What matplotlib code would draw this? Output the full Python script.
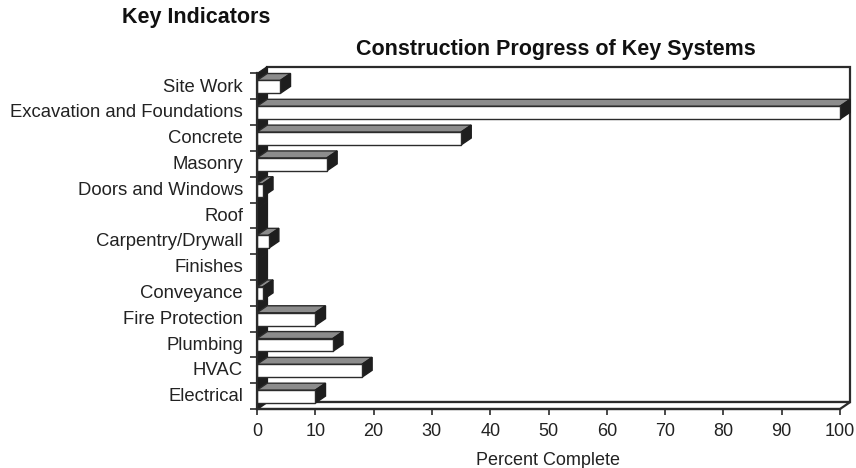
import matplotlib
matplotlib.use("Agg")
import matplotlib.pyplot as plt
from matplotlib.patches import Polygon, Rectangle

plt.rcParams['font.family'] = ['Liberation Sans', 'DejaVu Sans']

categories = [
    "Site Work", "Excavation and Foundations", "Concrete", "Masonry",
    "Doors and Windows", "Roof", "Carpentry/Drywall", "Finishes",
    "Conveyance", "Fire Protection", "Plumbing", "HVAC", "Electrical",
]
percent_complete = [4, 100, 35, 12, 1, 0, 2, 0, 1, 10, 13, 18, 10]
x_ticks = list(range(0, 101, 10))

W, H = 856, 468
fig = plt.figure(figsize=(W / 100, H / 100), dpi=100)
ax = fig.add_axes([257 / W, (H - 409) / H, 583 / W, 335.5 / H])

n = len(categories)
ax.set_xlim(0, 100)
ax.set_ylim(n - 0.5, -0.5)

# depth of the pseudo-3D extrusion (data units)
dx = 1.75
dy = 0.27
line_col = "#2b2b2b"
top_col = "#8c8c8c"
side_col = "#1e1e1e"

# back wall, floor and left wall
ax.add_patch(Rectangle((dx, -0.5 - dy), 100, n, fc="white", ec=line_col,
                       lw=1.6, clip_on=False, zorder=0))
ax.add_patch(Polygon([(0, n - 0.5), (100, n - 0.5), (100 + dx, n - 0.5 - dy),
                      (dx, n - 0.5 - dy)], closed=True, fc="white", ec=line_col,
                     lw=1.6, clip_on=False, zorder=1))
ax.add_patch(Polygon([(0, -0.5), (dx, -0.5 - dy), (dx, n - 0.5 - dy),
                      (0, n - 0.5)], closed=True, fc=side_col, ec=side_col,
                     lw=0.8, clip_on=False, zorder=1))

# bars: white front, grey top, dark right side
for i, v in enumerate(percent_complete):
    y0 = i - 0.23
    y1 = i + 0.27
    ax.add_patch(Polygon([(0, y0), (v, y0), (v + dx, y0 - dy), (dx, y0 - dy)],
                         closed=True, fc=top_col, ec=line_col, lw=1.0,
                         clip_on=False, zorder=3))
    ax.add_patch(Polygon([(v, y0), (v + dx, y0 - dy), (v + dx, y1 - dy), (v, y1)],
                         closed=True, fc=side_col, ec=side_col, lw=1.0,
                         clip_on=False, zorder=3))
    if v > 0:
        ax.add_patch(Rectangle((0, y0), v, y1 - y0, fc="white", ec=line_col,
                               lw=1.0, clip_on=False, zorder=4))

for s in ("top", "right"):
    ax.spines[s].set_visible(False)
for s in ("left", "bottom"):
    ax.spines[s].set_color(line_col)
    ax.spines[s].set_linewidth(1.6)
    ax.spines[s].set_zorder(5)

ax.set_xticks(x_ticks)
ax.set_xticklabels([str(t) for t in x_ticks])
ax.set_yticks([k - 0.05 for k in range(n)])
ax.set_yticklabels(categories)
ax.set_yticks([k - 0.5 for k in range(n + 1)], minor=True)
ax.tick_params(axis="y", which="major", length=0, pad=10, labelsize=13.3,
               labelcolor="#222222")
ax.tick_params(axis="y", which="minor", length=5, width=1.2, color=line_col)
ax.tick_params(axis="x", which="major", length=4, width=1.2, color=line_col,
               pad=6, labelsize=13, labelcolor="#222222")
ax.set_facecolor("none")

ax.set_xlabel("Percent Complete", fontsize=13, color="#222222", labelpad=9)

fig.text(122 / W, 1 - 18 / H, "Key Indicators", fontsize=15.5,
         fontweight="bold", ha="left", va="center", color="#111111")
fig.text(556 / W, 1 - 49 / H, "Construction Progress of Key Systems",
         fontsize=15.5, fontweight="bold", ha="center", va="center",
         color="#111111")

fig.savefig("out.png", dpi=100)
